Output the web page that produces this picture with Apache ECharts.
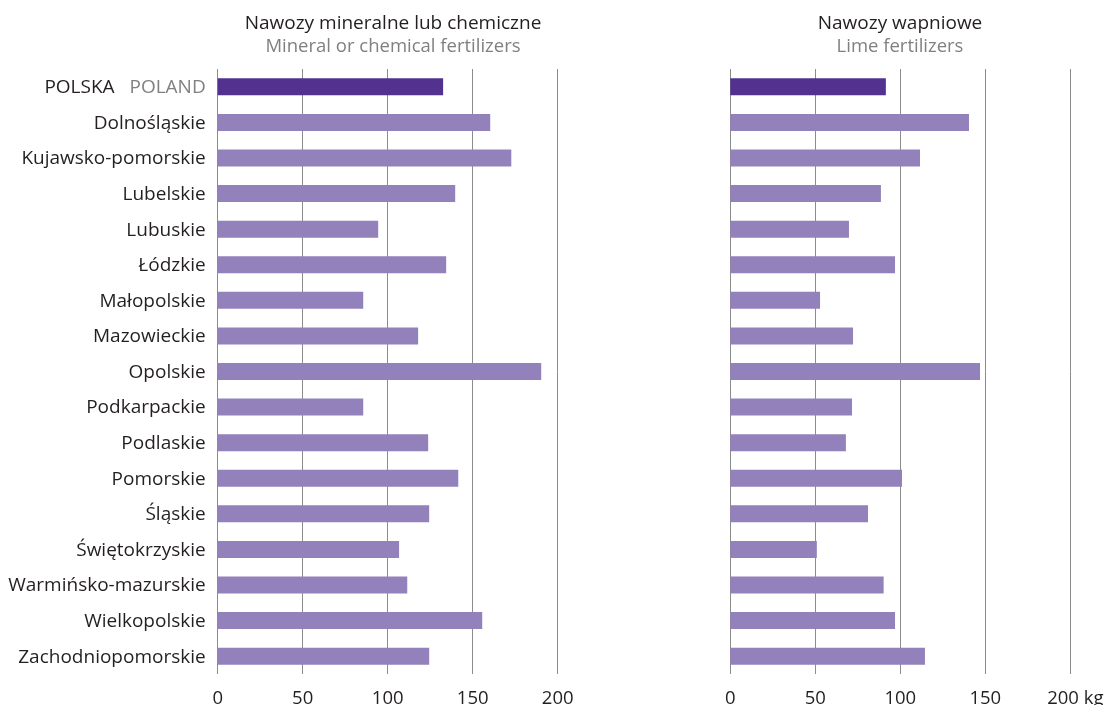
<!DOCTYPE html>
<html>
<head>
<meta charset="utf-8">
<script src="https://cdn.jsdelivr.net/npm/echarts@6/dist/echarts.min.js"></script>
<style>
html,body{margin:0;padding:0;background:#fff;}
#chart{width:1107px;height:705px;}
</style>
</head>
<body>
<div id="chart"></div>
<script>
const categories = ['POLSKA','Dolnośląskie','Kujawsko-pomorskie','Lubelskie','Lubuskie','Łódzkie','Małopolskie','Mazowieckie','Opolskie','Podkarpackie','Podlaskie','Pomorskie','Śląskie','Świętokrzyskie','Warmińsko-mazurskie','Wielkopolskie','Zachodniopomorskie'];
const mineral = [132.6,160.3,172.7,139.7,94.4,134.4,85.6,117.9,190.3,85.6,123.8,141.5,124.4,106.7,111.5,155.6,124.4];
const lime = [91.5,140.4,111.6,88.6,69.8,96.9,52.8,72.2,146.9,71.6,68.0,101.0,81.0,50.9,90.2,96.9,114.5];
const ticks = [0,50,100,150,200];
const titleLeft = ['Nawozy mineralne lub chemiczne','Mineral or chemical fertilizers'];
const titleRight = ['Nawozy wapniowe','Lime fertilizers'];

const FONT = 'Open Sans';
const DARK = '#231f20';
const GRAY = '#808080';
const C_POL = '#52318f';
const C_REG = '#9281ba';

function barData(vals){
  return vals.map((v,i)=>({value:v, itemStyle:{color: i===0 ? C_POL : C_REG}}));
}

const chart = echarts.init(document.getElementById('chart'), null, {renderer:'canvas'});
const xCommon = {
  type:'value', min:ticks[0], max:ticks[ticks.length-1], interval:ticks[1]-ticks[0],
  axisLine:{show:false}, axisTick:{show:false},
  splitLine:{show:true, lineStyle:{color:'#8c8c8c', width:1}},
};
function mkTitle(t, x){
  return {text:t[0], subtext:t[1], left:x, top:13, textAlign:'center', itemGap:1, padding:0,
    textStyle:{fontFamily:FONT, fontSize:19, lineHeight:22, fontWeight:'normal', color:DARK},
    subtextStyle:{fontFamily:FONT, fontSize:18.5, lineHeight:22, color:GRAY}};
}
chart.setOption({
  animation:false,
  backgroundColor:'#fff',
  title:[ mkTitle(titleLeft, 393), mkTitle(titleRight, 900) ],
  grid:[
    {left:217.7, width:340, top:69, height:605, containLabel:false, outerBoundsMode:'none'},
    {left:730.3, width:340, top:69, height:605, containLabel:false, outerBoundsMode:'none'}
  ],
  xAxis:[
    Object.assign({gridIndex:0, axisLabel:{fontFamily:FONT, fontSize:18.5, color:DARK, margin:15,
      formatter:v=>String(v)}}, xCommon),
    Object.assign({gridIndex:1, axisLabel:{fontFamily:FONT, fontSize:18.5, color:DARK, margin:15,
      formatter:v=> v===200 ? '{k|'+v+' kg}' : String(v),
      rich:{k:{fontFamily:FONT, fontSize:18.5, color:DARK, padding:[0,0,0,10]}}}}, xCommon)
  ],
  yAxis:[
    {type:'category', gridIndex:0, data:categories, inverse:true,
     axisLine:{show:false}, axisTick:{show:false},
     axisLabel:{fontFamily:FONT, fontSize:19, color:DARK, margin:12,
       formatter:(v,i)=> i===0 ? '{a|POLSKA}  {b|POLAND}' : '{n|'+v+'}',
       rich:{a:{fontFamily:FONT, fontSize:19, color:DARK, padding:[2,0,0,0]},
             b:{fontFamily:FONT, fontSize:19, color:GRAY, padding:[2,0,0,5]},
             n:{fontFamily:FONT, fontSize:19, color:DARK, padding:[2,0,0,0]}}}},
    {type:'category', gridIndex:1, data:categories, inverse:true,
     axisLine:{show:false}, axisTick:{show:false}, axisLabel:{show:false}}
  ],
  series:[
    {type:'bar', xAxisIndex:0, yAxisIndex:0, data:barData(mineral), barWidth:17},
    {type:'bar', xAxisIndex:1, yAxisIndex:1, data:barData(lime), barWidth:17}
  ]
});
</script>
</body>
</html>
